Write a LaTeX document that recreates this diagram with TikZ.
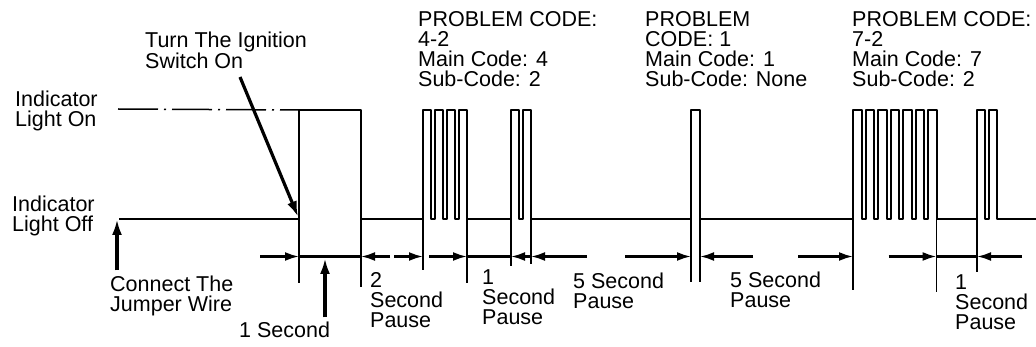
\documentclass[tikz,border=0pt]{standalone}
\usepackage{fontspec}
\setmainfont{Liberation Sans}
\usetikzlibrary{arrows.meta}
\usetikzlibrary{calc}
\tikzset{wave/.style = {line width = 2, line join = round}}
\tikzset{tick/.style = {line width = 1.3}}
\tikzset{onlevel/.style = {line width = 1.5, dash pattern = on 40pt off 6pt on 2pt off 6pt}}
\tikzset{bar/.style = {line width = 2.2}}
\tikzset{dim/.style = {line width = 2.2, -{Latex[length = 14pt, width = 9pt]}}}
\tikzset{pointer/.style = {line width = 3.2, -{Latex[length = 16pt, width = 10pt]}}}
\tikzset{lbl/.style = {anchor = north west, inner sep = 0, align = left, font = \fontsize{21.5}{20}\selectfont}}

\begin{document}
\begin{tikzpicture}[x = 1pt, y = -1pt]
      \useasboundingbox (0, 0) rectangle (1036, 347);
      % levels and edges
      \coordinate (top) at (0, 110);
      \coordinate (dimrow) at (0, 256.5);
      \coordinate (start) at (119, 219);
      \coordinate (finish) at (1036, 219);
      \coordinate (ign) at (299, 219);
      \coordinate (e1) at (361, 219);
      \coordinate (g1s) at (423, 219);
      \coordinate (g1e) at (467, 219);
      \coordinate (g2s) at (511, 219);
      \coordinate (g2e) at (531, 219);
      \coordinate (s1) at (691, 219);
      \coordinate (s2) at (700, 219);
      \coordinate (g3s) at (853, 219);
      \coordinate (g3e) at (936.5, 219);
      \coordinate (g4s) at (977, 219);
      % the signal
      \draw[wave] (start) -- (ign) -- (ign |- top) -- (e1 |- top) -- (e1) -- (g1s)
        \foreach \k in {1, ..., 4} {-- ++(0, -109) -- ++(8, 0) -- ++(0, 109) -- ++(4, 0)}
        -- (g2s)
        \foreach \k in {1, 2} {-- ++(0, -109) -- ++(8, 0) -- ++(0, 109) -- ++(4, 0)}
        -- (s1) -- (s1 |- top) -- (s2 |- top) -- (s2) -- (g3s)
        \foreach \k in {1, ..., 7} {-- ++(0, -109) -- ++(8.5, 0) -- ++(0, 109) -- ++(4, 0)}
        -- (g4s)
        \foreach \k in {1, 2} {-- ++(0, -109) -- ++(8, 0) -- ++(0, 109) -- ++(4, 0)}
        -- (finish);
      \draw[onlevel] (118, 109) -- (ign |- top);
      \foreach \c/\l in {ign/64, e1/68, g1s/51, g1e/64, g2s/47, g2e/45, s1/63, s2/63, g3s/71, g3e/73, g4s/53}
        \draw[tick] (\c) -- ++(0, \l);
      % time marks
      \draw[dim] ($(ign |- dimrow) + (-39, 0)$) -- (ign |- dimrow);
      \draw[bar] (ign |- dimrow) -- (e1 |- dimrow);
      \draw[dim] ($(e1 |- dimrow) + (29, 0)$) -- (e1 |- dimrow);
      \draw[dim] ($(g1s |- dimrow) + (-29, 0)$) -- (g1s |- dimrow);
      \draw[dim] ($(g1e |- dimrow) + (-38, 0)$) -- (g1e |- dimrow);
      \draw[bar] (g1e |- dimrow) -- (g2s |- dimrow);
      \draw[dim] (g2e |- dimrow) -- (g2s |- dimrow);
      \draw[dim] ($(g2e |- dimrow) + (56, 0)$) -- (g2e |- dimrow);
      \draw[dim] ($(s1 |- dimrow) + (-66, 0)$) -- (s1 |- dimrow);
      \draw[dim] ($(s2 |- dimrow) + (53, 0)$) -- (s2 |- dimrow);
      \draw[dim] ($(g3s |- dimrow) + (-55, 0)$) -- (g3s |- dimrow);
      \draw[dim] ($(g3e |- dimrow) + (-48, 0)$) -- (g3e |- dimrow);
      \draw[bar] (g3e |- dimrow) -- (g4s |- dimrow);
      \draw[dim] ($(g4s |- dimrow) + (45, 0)$) -- (g4s |- dimrow);
      % texts
      \node[lbl] (switchon) at (145, 31.5) {Turn The Ignition\\Switch On};
      \node[lbl] (lighton) at (15, 90.5) {Indicator\\Light On};
      \node[lbl] (lightoff) at (12, 195.5) {Indicator\\Light Off};
      \node[lbl] (jumper) at (110, 275.5) {Connect The\\Jumper Wire};
      \node[lbl] (onesec) at (239, 321.5) {1 Second};
      \node[lbl] (pausea) at (370, 272.5) {2\\Second\\Pause};
      \node[lbl] (pauseb) at (482, 269.5) {1\\Second\\Pause};
      \node[lbl] (pausec) at (573, 272.5) {5 Second\\Pause};
      \node[lbl] (paused) at (730, 271.5) {5 Second\\Pause};
      \node[lbl] (pausee) at (955, 274.5) {1\\Second\\Pause};
      \node[lbl] (codea) at (418, 11.5) {PROBLEM CODE:\\4-2\\Main Code: 4\\Sub-Code: 2};
      \node[lbl] (codeb) at (645, 11.5) {PROBLEM\\CODE: 1\\Main Code: 1\\Sub-Code: None};
      \node[lbl] (codec) at (852, 11.5) {PROBLEM CODE:\\7-2\\Main Code: 7\\Sub-Code: 2};
      % pointers
      \coordinate (turntail) at (240, 77);
      \draw[pointer, shorten > = 2] (turntail) -- (ign);
      \draw[pointer] ([xshift = 7pt, yshift = 5pt]jumper.north west) -- (start -| 117, 0);
      \draw[pointer] ([xshift = 86pt, yshift = 4pt]onesec.north west) -- ($(onesec.north west |- dimrow) + (86, 1.5)$);
    \end{tikzpicture}
\end{document}
